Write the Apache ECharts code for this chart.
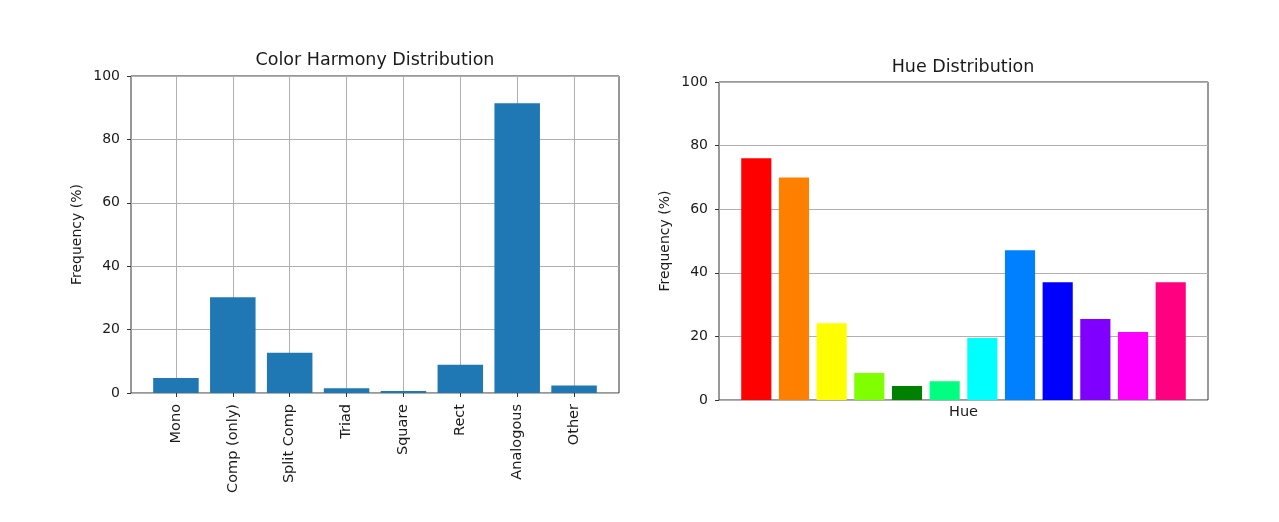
<!DOCTYPE html>
<html>
<head>
<meta charset="utf-8">
<script src="https://cdn.jsdelivr.net/npm/echarts@6/dist/echarts.min.js"></script>
<style>
html, body { margin: 0; padding: 0; background: #ffffff; }
#chart { width: 1279px; height: 522px; }
</style>
</head>
<body>
<div id="chart"></div>
<script type="text/javascript">
    // data
    var harmonyNames = ['Mono', 'Comp (only)', 'Split Comp', 'Triad', 'Square', 'Rect', 'Analogous', 'Other'];
    var harmonyValues = [4.7, 30.2, 12.7, 1.5, 0.6, 8.9, 91.4, 2.4];

    var hueValues = [76.0, 70.0, 24.1, 8.5, 4.4, 5.9, 19.5, 47.1, 37.0, 25.5, 21.4, 37.0];
    var hueColors = ['#ff0000', '#ff8000', '#ffff00', '#80ff00', '#008000', '#00ff80',
                     '#00ffff', '#0080ff', '#0000ff', '#8000ff', '#ff00ff', '#ff0080'];

    var yTicks = [0, 20, 40, 60, 80, 100];

    var FONT = 'DejaVu Sans';
    var TXT = '#1a1a1a';
    var GRIDC = '#b0b0b0';

    var myChart = echarts.init(document.getElementById('chart'));

    // matplotlib style margins: plot frame is wider than the bar area
    // left frame 131..619, one category = 56.88px ; right frame 719..1208, one = 37.67px
    var lUnit = 488 / 8.58;
    var rUnit = 489 / 12.98;

    function frameY(idx, name) {
        return {
            gridIndex: idx, type: 'value', min: 0, max: 100, interval: 20,
            name: name, nameLocation: 'middle', nameGap: 47, nameRotate: 90,
            nameTextStyle: { fontFamily: FONT, fontSize: 14, color: TXT },
            axisLine: { show: false },
            axisTick: { show: true, length: 4, lineStyle: { color: '#333' } },
            axisLabel: { margin: 11, fontFamily: FONT, fontSize: 14, color: TXT,
                         formatter: function (v) { return yTicks.indexOf(v) >= 0 ? String(v) : ''; } },
            splitLine: { show: true, lineStyle: { color: GRIDC, width: 1 } }
        };
    }
    function hiddenY(idx) {
        return { gridIndex: idx, type: 'value', min: 0, max: 100, show: false };
    }

    var option = {
        animation: false,
        backgroundColor: '#ffffff',
        title: [
            { text: 'Color Harmony Distribution', left: 375, top: 51, textAlign: 'center', padding: 0,
              textStyle: { fontFamily: FONT, fontSize: 17.5, fontWeight: 'normal', color: TXT } },
            { text: 'Hue Distribution', left: 963, top: 58, textAlign: 'center', padding: 0,
              textStyle: { fontFamily: FONT, fontSize: 17.5, fontWeight: 'normal', color: TXT } }
        ],
        grid: [
            { left: 131, top: 76, width: 488, height: 317, show: true, borderColor: '#333', borderWidth: 1 },
            { left: 131 + 0.79 * lUnit, top: 76, width: 7 * lUnit, height: 317 },
            { left: 719, top: 82, width: 489, height: 318, show: true, borderColor: '#333', borderWidth: 1 },
            { left: 719 + 0.99 * rUnit, top: 82, width: 11 * rUnit, height: 318 }
        ],
        xAxis: [
            { gridIndex: 0, type: 'value', min: 0, max: 1, show: false },
            {
                gridIndex: 1, type: 'value', min: 0, max: 7, interval: 1,
                axisLine: { show: false },
                axisTick: { show: true, length: 4, lineStyle: { color: '#333' } },
                axisLabel: { rotate: 90, margin: 11, fontFamily: FONT, fontSize: 14.5, color: TXT,
                             formatter: function (v) { return harmonyNames[v] || ''; } },
                splitLine: { show: true, lineStyle: { color: GRIDC, width: 1 } }
            },
            {
                gridIndex: 2, type: 'value', min: 0, max: 1,
                name: 'Hue', nameLocation: 'middle', nameGap: 5,
                nameTextStyle: { fontFamily: FONT, fontSize: 14.5, color: TXT, verticalAlign: 'top' },
                axisLine: { show: false }, axisTick: { show: false },
                axisLabel: { show: false }, splitLine: { show: false }
            },
            { gridIndex: 3, type: 'value', min: 0, max: 11, interval: 1, show: false }
        ],
        yAxis: [
            frameY(0, 'Frequency (%)'),
            hiddenY(1),
            frameY(2, 'Frequency (%)'),
            hiddenY(3)
        ],
        series: [
            {
                name: 'harmony', type: 'bar', xAxisIndex: 1, yAxisIndex: 1, clip: false,
                barWidth: 0.8 * lUnit,
                itemStyle: { color: '#1f77b4' },
                data: harmonyValues.map(function (v, i) { return [i, v]; })
            },
            {
                name: 'hue', type: 'bar', xAxisIndex: 3, yAxisIndex: 3, clip: false,
                barWidth: 0.8 * rUnit,
                data: hueValues.map(function (v, i) {
                    return { value: [i, v], itemStyle: { color: hueColors[i] } };
                })
            }
        ]
    };

    if (option && typeof option === "object") {
        myChart.setOption(option, true);
    }
</script>
</body>
</html>
